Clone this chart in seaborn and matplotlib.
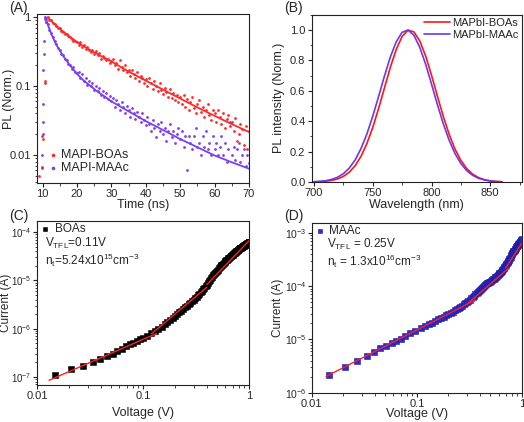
import numpy as np
import matplotlib
matplotlib.use('Agg')
import matplotlib.pyplot as plt
import seaborn as sns
from matplotlib.ticker import FuncFormatter, MultipleLocator, LogLocator

sns.set_style('ticks')
plt.rcParams['font.family'] = ['Liberation Sans', 'DejaVu Sans']
plt.rcParams['mathtext.default'] = 'regular'

RED = '#ff2a2a'
PURPLE = '#7b3ff5'
BLUE = '#2a2ad6'

# (A) TRPL decay, normalised
rise_t_boa = [9.1, 9.8, 9.9, 10.1, 10.6, 10.7, 11.1]
rise_boa = [0.005, 0.0067, 0.019, 0.017, 0.12, 0.11, 0.95]
rise_t_maac = [9.9, 9.9, 10.0, 10.05, 10.1, 10.2, 10.3, 10.35, 10.6, 10.8]
rise_maac = [0.0065, 0.01, 0.02, 0.03, 0.055, 0.17, 0.29, 0.45, 0.95, 1.0]

t_decay = [11.0, 11.5, 12.0, 12.5, 13.0, 13.5, 14.0, 14.5, 15.0, 15.5,
           16.0, 16.5, 17.0, 17.5, 18.0, 18.5, 19.0, 19.5, 20.0,
           20.5, 21.0, 21.5, 22.0, 22.5, 23.0, 23.5, 24.0, 24.5, 25.0,
           25.5, 26.0, 26.5, 27.0, 27.5, 28.0, 28.5, 29.0, 29.5, 30.0,
           30.5, 31.0, 31.5, 32.0, 32.5, 33.0, 33.5, 34.0, 34.5, 35.0,
           35.5, 36.0, 36.5, 37.0, 37.5, 38.0, 38.5, 39.0, 39.5, 40.0,
           40.5, 41.0, 41.5, 42.0, 42.5, 43.0, 43.5, 44.0, 44.5, 45.0,
           45.5, 46.0, 46.5, 47.0, 47.5, 48.0, 48.5, 49.0, 49.5, 50.0,
           50.5, 51.0, 51.5, 52.0, 52.5, 53.0, 53.5, 54.0, 54.5, 55.0,
           55.5, 56.0, 56.5, 57.0, 57.5, 58.0, 58.5, 59.0, 59.5, 60.0,
           60.5, 61.0, 61.5, 62.0, 62.5, 63.0, 63.5, 64.0, 64.5, 65.0,
           65.5, 66.0, 66.5, 67.0, 67.5, 68.0, 68.5, 69.0, 69.5, 70.0]
pl_boa = [0.86, 1.0, 0.93, 0.90, 0.82, 0.80, 0.74, 0.70, 0.69, 0.64,
          0.62, 0.58, 0.57, 0.53, 0.52, 0.48, 0.46, 0.45, 0.44,
          0.40, 0.44, 0.37, 0.39, 0.35, 0.37, 0.33, 0.31, 0.34, 0.29,
          0.32, 0.28, 0.30, 0.25, 0.27, 0.26, 0.24, 0.25, 0.22, 0.23,
          0.25, 0.20, 0.22, 0.18, 0.24, 0.19, 0.17, 0.20, 0.16, 0.17,
          0.14, 0.17, 0.15, 0.13, 0.16, 0.12, 0.14, 0.13, 0.11, 0.125,
          0.10, 0.13, 0.11, 0.092, 0.12, 0.10, 0.085, 0.11, 0.088, 0.078,
          0.095, 0.082, 0.07, 0.09, 0.068, 0.08, 0.062, 0.075, 0.058, 0.07,
          0.055, 0.075, 0.05, 0.065, 0.045, 0.058, 0.07, 0.048, 0.04, 0.055,
          0.062, 0.042, 0.05, 0.036, 0.045, 0.055, 0.038, 0.032, 0.045, 0.04,
          0.03, 0.045, 0.035, 0.028, 0.04, 0.025, 0.033, 0.038, 0.026, 0.03,
          0.022, 0.034, 0.016, 0.02, 0.028, 0.024, 0.014, 0.026, 0.012, 0.022]
pl_maac = [0.85, 0.80, 0.66, 0.60, 0.52, 0.46, 0.41, 0.36, 0.34, 0.29,
           0.28, 0.25, 0.24, 0.21, 0.20, 0.18, 0.19, 0.16, 0.155,
           0.16, 0.13, 0.15, 0.12, 0.13, 0.105, 0.12, 0.10, 0.11, 0.088,
           0.10, 0.085, 0.095, 0.075, 0.085, 0.07, 0.08, 0.065, 0.072, 0.06,
           0.068, 0.05, 0.062, 0.055, 0.045, 0.058, 0.05, 0.04, 0.052, 0.045,
           0.036, 0.048, 0.04, 0.033, 0.042, 0.036, 0.03, 0.04, 0.032, 0.027,
           0.035, 0.028, 0.022, 0.032, 0.025, 0.018, 0.028, 0.022, 0.03, 0.02,
           0.025, 0.016, 0.022, 0.028, 0.018, 0.022, 0.015, 0.02, 0.025, 0.017,
           0.022, 0.013, 0.019, 0.006, 0.019, 0.015, 0.012, 0.019, 0.025, 0.013,
           0.015, 0.0098, 0.019, 0.013, 0.022, 0.012, 0.015, 0.0098, 0.019, 0.012,
           0.015, 0.0098, 0.013, 0.019, 0.0098, 0.015, 0.008, 0.012, 0.03, 0.0098,
           0.013, 0.0085, 0.012, 0.015, 0.008, 0.0098, 0.012, 0.007, 0.0098, 0.0075]

fit_t_boa = [11.5, 12, 13, 14, 15, 16, 17, 18, 19, 20, 22, 24, 26, 28, 30,
             32.5, 35, 37.5, 40, 45, 50, 55, 60, 65, 70]
fit_boa = [1.0, 0.944, 0.841, 0.759, 0.684, 0.624, 0.569, 0.519, 0.479, 0.437,
           0.380, 0.331, 0.292, 0.257, 0.229, 0.193, 0.163, 0.140, 0.120,
           0.089, 0.066, 0.049, 0.037, 0.028, 0.0215]
fit_t_maac = [10.8, 11.5, 12, 13, 14, 15, 16, 17, 18, 19, 20, 22, 24, 26, 28,
              30, 35, 40, 45, 50, 55, 60, 65, 70]
fit_maac = [1.0, 0.79, 0.68, 0.51, 0.40, 0.33, 0.275, 0.234, 0.20, 0.174,
            0.151, 0.12, 0.10, 0.083, 0.071, 0.060, 0.043, 0.031, 0.023,
            0.017, 0.0129, 0.0098, 0.0078, 0.0063]

# (B) steady-state PL
wavelength = [700, 705, 710, 715, 720, 725, 730, 735, 740, 745, 750, 755,
              760, 765, 770, 775, 780, 785, 790, 795, 800, 805, 810, 815,
              820, 825, 830, 835, 840, 845, 850, 855, 860]
pl_int_boa = [0.001, 0.0024, 0.0051, 0.0104, 0.0201, 0.037, 0.0646, 0.107,
              0.169, 0.253, 0.359, 0.484, 0.620, 0.755, 0.872, 0.957, 0.998,
              0.987, 0.928, 0.829, 0.702, 0.565, 0.432, 0.314, 0.216, 0.142,
              0.088, 0.052, 0.029, 0.0155, 0.0078, 0.0038, 0.0017]
pl_int_maac = [0.002, 0.0043, 0.0087, 0.0169, 0.0311, 0.0547, 0.0914, 0.145,
               0.220, 0.316, 0.433, 0.563, 0.698, 0.823, 0.922, 0.984, 0.999,
               0.965, 0.886, 0.775, 0.644, 0.510, 0.384, 0.275, 0.187, 0.121,
               0.075, 0.044, 0.0245, 0.013, 0.0066, 0.0032, 0.0014]

# (C) SCLC, BOAs device
v_boa = [0.0148, 0.0208, 0.027, 0.0335, 0.039, 0.0454, 0.0518, 0.0573,
         0.0629, 0.069, 0.0753, 0.081, 0.087, 0.094, 0.10,
         0.11, 0.12, 0.13, 0.14, 0.15, 0.16, 0.17, 0.18, 0.19, 0.20,
         0.21, 0.22, 0.23, 0.24, 0.25, 0.26, 0.27, 0.28, 0.29, 0.30,
         0.31, 0.32, 0.33, 0.34, 0.35, 0.36, 0.37, 0.38, 0.39, 0.40,
         0.41, 0.42, 0.43, 0.44, 0.45, 0.46, 0.47, 0.48, 0.49, 0.50,
         0.51, 0.52, 0.53, 0.54, 0.55, 0.56, 0.57, 0.58, 0.59, 0.60,
         0.61, 0.62, 0.63, 0.64, 0.65, 0.66, 0.67, 0.68, 0.69, 0.70,
         0.71, 0.72, 0.73, 0.74, 0.75, 0.76, 0.77, 0.78, 0.79, 0.80,
         0.81, 0.82, 0.83, 0.84, 0.85, 0.86, 0.87, 0.88, 0.89, 0.90,
         0.91, 0.92, 0.93, 0.94, 0.95, 0.96, 0.97, 0.98, 0.99, 1.00]
i_boa = [1.1e-7, 1.44e-7, 1.72e-7, 2.07e-7, 2.4e-7, 2.68e-7, 3.03e-7, 3.4e-7,
         3.8e-7, 4.3e-7, 4.75e-7, 5.1e-7, 5.6e-7, 6.0e-7, 6.4e-7,
         7.2e-7, 8.1e-7, 9.0e-7, 1.0e-6, 1.1e-6, 1.22e-6, 1.35e-6, 1.5e-6, 1.67e-6, 1.84e-6,
         2.0e-6, 2.17e-6, 2.35e-6, 2.55e-6, 2.75e-6, 2.97e-6, 3.2e-6, 3.45e-6, 3.72e-6, 4.0e-6,
         4.3e-6, 4.62e-6, 4.96e-6, 5.32e-6, 5.7e-6, 6.1e-6, 6.55e-6, 7.05e-6, 7.6e-6, 8.2e-6,
         8.85e-6, 9.55e-6, 1.03e-5, 1.11e-5, 1.19e-5, 1.28e-5, 1.36e-5, 1.44e-5, 1.52e-5, 1.60e-5,
         1.68e-5, 1.77e-5, 1.86e-5, 1.95e-5, 2.04e-5, 2.13e-5, 2.22e-5, 2.31e-5, 2.41e-5, 2.51e-5,
         2.61e-5, 2.70e-5, 2.79e-5, 2.88e-5, 2.97e-5, 3.06e-5, 3.15e-5, 3.24e-5, 3.33e-5, 3.42e-5,
         3.52e-5, 3.62e-5, 3.72e-5, 3.82e-5, 3.92e-5, 4.02e-5, 4.12e-5, 4.22e-5, 4.32e-5, 4.42e-5,
         4.51e-5, 4.60e-5, 4.69e-5, 4.78e-5, 4.87e-5, 4.96e-5, 5.05e-5, 5.14e-5, 5.23e-5, 5.32e-5,
         5.41e-5, 5.50e-5, 5.59e-5, 5.68e-5, 5.77e-5, 5.86e-5, 5.95e-5, 6.04e-5, 6.12e-5, 6.20e-5]
fit_v_boa = [[0.013, 0.134], [0.12, 0.40], [0.40, 1.0]]
fit_i_boa = [[8.5e-8, 7.9e-7], [7.8e-7, 7.2e-6], [8.2e-6, 6.6e-5]]

# (D) SCLC, MAAc device
v_maac = [0.0147, 0.0209, 0.0271, 0.0334, 0.0395, 0.0443, 0.0513, 0.0575,
          0.063, 0.070, 0.078, 0.087, 0.097,
          0.11, 0.12, 0.13, 0.14, 0.15, 0.16, 0.17, 0.18, 0.19, 0.20,
          0.21, 0.22, 0.23, 0.24, 0.25, 0.26, 0.27, 0.28, 0.29, 0.30,
          0.31, 0.32, 0.33, 0.34, 0.35, 0.36, 0.37, 0.38, 0.39, 0.40,
          0.41, 0.42, 0.43, 0.44, 0.45, 0.46, 0.47, 0.48, 0.49, 0.50,
          0.51, 0.52, 0.53, 0.54, 0.55, 0.56, 0.57, 0.58, 0.59, 0.60,
          0.61, 0.62, 0.63, 0.64, 0.65, 0.66, 0.67, 0.68, 0.69, 0.70,
          0.71, 0.72, 0.73, 0.74, 0.75, 0.76, 0.77, 0.78, 0.79, 0.80,
          0.81, 0.82, 0.83, 0.84, 0.85, 0.86, 0.87, 0.88, 0.89, 0.90,
          0.91, 0.92, 0.93, 0.94, 0.95, 0.96, 0.97, 0.98, 0.99, 1.00]
i_maac = [2.15e-6, 3.1e-6, 3.9e-6, 4.8e-6, 5.7e-6, 6.8e-6, 7.6e-6, 8.5e-6,
          9.5e-6, 1.04e-5, 1.17e-5, 1.3e-5, 1.45e-5,
          1.65e-5, 1.8e-5, 1.94e-5, 2.08e-5, 2.23e-5, 2.38e-5, 2.53e-5, 2.68e-5, 2.85e-5, 3.02e-5,
          3.18e-5, 3.35e-5, 3.53e-5, 3.72e-5, 3.92e-5, 4.12e-5, 4.32e-5, 4.55e-5, 4.80e-5, 5.05e-5,
          5.30e-5, 5.60e-5, 5.90e-5, 6.25e-5, 6.65e-5, 7.05e-5, 7.45e-5, 7.85e-5, 8.25e-5, 8.65e-5,
          9.05e-5, 9.45e-5, 9.85e-5, 1.02e-4, 1.06e-4, 1.10e-4, 1.13e-4, 1.16e-4, 1.19e-4, 1.22e-4,
          1.26e-4, 1.30e-4, 1.34e-4, 1.38e-4, 1.42e-4, 1.47e-4, 1.52e-4, 1.57e-4, 1.62e-4, 1.68e-4,
          1.74e-4, 1.80e-4, 1.87e-4, 1.94e-4, 2.02e-4, 2.10e-4, 2.19e-4, 2.28e-4, 2.38e-4, 2.49e-4,
          2.60e-4, 2.72e-4, 2.85e-4, 2.98e-4, 3.12e-4, 3.27e-4, 3.43e-4, 3.60e-4, 3.78e-4, 3.96e-4,
          4.14e-4, 4.32e-4, 4.50e-4, 4.68e-4, 4.86e-4, 5.04e-4, 5.22e-4, 5.40e-4, 5.58e-4, 5.76e-4,
          5.94e-4, 6.12e-4, 6.30e-4, 6.48e-4, 6.66e-4, 6.84e-4, 7.02e-4, 7.20e-4, 7.40e-4, 7.60e-4]
fit_v_maac = [[0.0137, 0.36], [0.30, 0.75], [0.70, 1.0]]
fit_i_maac = [[2.02e-6, 5.5e-5], [4.6e-5, 2.2e-4], [2.2e-4, 6.5e-4]]

fig = plt.figure(figsize=(5.24, 4.22), dpi=100)
axA = fig.add_axes([0.0706, 0.5664, 0.4046, 0.4005])
axB = fig.add_axes([0.5948, 0.5687, 0.4013, 0.3965])
axC = fig.add_axes([0.0706, 0.0877, 0.4046, 0.3886])
axD = fig.add_axes([0.5948, 0.0694, 0.4013, 0.4029])

tick_fmt = FuncFormatter(lambda v, p: f'{v:g}')
no_fmt = FuncFormatter(lambda v, p: '')

for ax in (axA, axB, axC, axD):
    for sp in ax.spines.values():
        sp.set_linewidth(0.8)
        sp.set_color('#222222')
    ax.tick_params(which='major', direction='out', length=3, width=0.8,
                   labelsize=8, pad=1.5, color='#222222')
    ax.tick_params(which='minor', direction='out', length=1.8, width=0.6,
                   color='#222222')

# ---- (A)
axA.set_yscale('log')
sns.scatterplot(x=t_decay + rise_t_boa, y=pl_boa + rise_boa, ax=axA, color=RED,
                s=4, linewidth=0, label='MAPI-BOAs')
sns.scatterplot(x=t_decay + rise_t_maac, y=pl_maac + rise_maac, ax=axA,
                color=PURPLE, s=4, linewidth=0, label='MAPI-MAAc')
sns.lineplot(x=fit_t_boa, y=fit_boa, ax=axA, color=RED, lw=1.3,
             estimator=None, sort=False)
sns.lineplot(x=fit_t_maac, y=fit_maac, ax=axA, color=PURPLE, lw=1.3,
             estimator=None, sort=False)
axA.set_xlim(8.4, 70)
axA.set_ylim(0.0039, 1.12)
axA.xaxis.set_major_locator(MultipleLocator(10))
axA.xaxis.set_minor_locator(MultipleLocator(5))
axA.yaxis.set_major_formatter(tick_fmt)
axA.yaxis.set_minor_formatter(no_fmt)
axA.set_xlabel('Time (ns)', fontsize=9)
axA.set_ylabel('PL (Norm.)', fontsize=9)
axA.xaxis.set_label_coords(0.5, -0.095)
axA.yaxis.set_label_coords(-0.104, 0.5)
axA.legend(loc='lower left', bbox_to_anchor=(0.0, 0.0), frameon=False,
           fontsize=9, handletextpad=0.0, handlelength=1.2, borderpad=0.2,
           labelspacing=0.1, markerscale=1.3)
fig.text(0.018, 0.982, '(A)', fontsize=10, va='center')

# ---- (B)
sns.lineplot(x=wavelength, y=pl_int_boa, ax=axB, color='#ff1515', lw=1.2,
             estimator=None, sort=False, label='MAPbI-BOAs')
sns.lineplot(x=wavelength, y=pl_int_maac, ax=axB, color='#6f35f0', lw=1.2,
             estimator=None, sort=False, label='MAPbI-MAAc')
axB.set_xlim(698, 877)
axB.set_ylim(0, 1.1)
axB.xaxis.set_major_locator(MultipleLocator(50))
axB.xaxis.set_minor_locator(MultipleLocator(25))
axB.yaxis.set_major_locator(MultipleLocator(0.2))
axB.yaxis.set_minor_locator(MultipleLocator(0.1))
axB.yaxis.set_major_formatter(FuncFormatter(lambda v, p: f'{v:.1f}'))
axB.set_xlabel('Wavelength (nm)', fontsize=9)
axB.set_ylabel('PL intensity (Norm.)', fontsize=9)
axB.xaxis.set_label_coords(0.5, -0.1)
axB.yaxis.set_label_coords(-0.127, 0.5)
axB.legend(loc='upper right', bbox_to_anchor=(1.0, 1.0), frameon=False,
           fontsize=8, handlelength=2.3, handletextpad=0.2, borderpad=0.2,
           labelspacing=0.15, borderaxespad=0.1)
fig.text(0.543, 0.982, '(B)', fontsize=10, va='center')

# ---- (C) and (D)
panels = [
    (axC, v_boa, i_boa, fit_v_boa, fit_i_boa, 'black', 'black', 'BOAs',
     (6.8e-8, 1.7e-4), ['V$_{TFL}$=0.11V', 'n$_t$=5.24x10$^{15}$cm$^{-3}$'],
     (0.038, 0.862, 0.76), (-0.12, -0.135), 7),
    (axD, v_maac, i_maac, fit_v_maac, fit_i_maac, BLUE, '#1a1a99', 'MAAc',
     (1e-6, 1.56e-3), ['V$_{TFL}$ = 0.25V', 'n$_t$ = 1.3x10$^{16}$cm$^{-3}$'],
     (0.072, 0.872, 0.772), (-0.13, -0.089), 7.5),
]
for ax, vv, ii, fv, fi, fc, ec, lab, ylim, notes, pos, lab_xy, ysz in panels:
    ax.set_xscale('log')
    ax.set_yscale('log')
    sns.scatterplot(x=vv, y=ii, ax=ax, marker='s', s=14, color=fc,
                    edgecolor=ec, linewidth=0.4, label=lab, zorder=2)
    for seg_v, seg_i in zip(fv, fi):
        sns.lineplot(x=seg_v, y=seg_i, ax=ax, color='#ff2020', lw=1.0,
                     estimator=None, sort=False, zorder=3)
    ax.set_xlim(0.01, 1)
    ax.set_ylim(*ylim)
    ax.tick_params(axis='y', which='major', labelsize=ysz, pad=0.8)
    ax.xaxis.set_major_formatter(tick_fmt)
    ax.xaxis.set_minor_formatter(no_fmt)
    ax.yaxis.set_major_locator(LogLocator(base=10))
    ax.set_xlabel('Voltage (V)', fontsize=9)
    ax.set_ylabel('Current (A)', fontsize=8.5)
    ax.yaxis.set_label_coords(lab_xy[0], 0.5)
    ax.xaxis.set_label_coords(0.5, lab_xy[1])
    ax.legend(loc='upper left', bbox_to_anchor=(0.0, 1.0), frameon=False,
              fontsize=8.5, handletextpad=0.3, borderpad=0.05,
              borderaxespad=0.15, markerscale=0.8, handlelength=1.0)
    ax.text(pos[0], pos[1], notes[0], transform=ax.transAxes, fontsize=8.5,
            va='center')
    ax.text(pos[0], pos[2], notes[1], transform=ax.transAxes, fontsize=8.5,
            va='center')
fig.text(0.018, 0.488, '(C)', fontsize=10, va='center')
fig.text(0.543, 0.488, '(D)', fontsize=10, va='center')

fig.savefig('out.png', dpi=100)
